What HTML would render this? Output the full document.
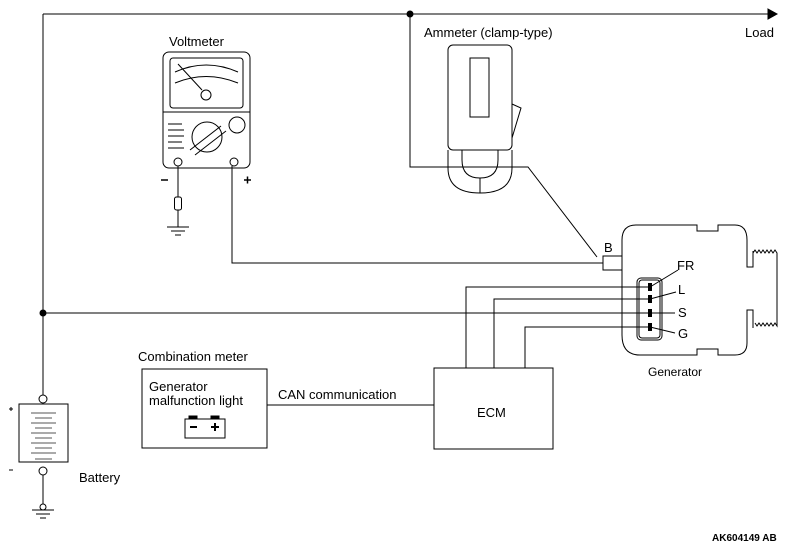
<!DOCTYPE html><html><head><style>body{margin:0;background:#fff}svg{display:block}text{font-family:"Liberation Sans",sans-serif;font-size:13px;fill:#000}</style></head><body>
<svg width="789" height="549" viewBox="0 0 789 549" fill="none" stroke="#000" stroke-width="1">
<path d="M43 14H768"/><path d="M768 9l9 5-9 5z" fill="#000"/>
<circle cx="410" cy="14" r="3" fill="#000"/>
<circle cx="43" cy="313" r="3" fill="#000"/>
<path d="M43 14V395"/>
<path d="M43 313H650"/>
<path d="M410 14V167H528L597 257"/>
<path d="M232 166V263H603"/>
<path d="M466 368V287H650M494 368V299H650M525 368V327H650"/>
<path d="M267 405H434"/>
<rect x="163" y="52" width="87" height="116" rx="6"/>
<rect x="170" y="58" width="73" height="50" rx="3"/>
<path d="M163 112H250"/>
<path d="M175 72Q206 58 238 72M175 83Q206 70 238 83"/>
<path d="M178 64L202 90"/><circle cx="206" cy="95" r="5" fill="#fff"/>
<circle cx="207" cy="137" r="15"/><circle cx="237" cy="125" r="8"/>
<path d="M190 150L221 126M195 155L226 131"/>
<path d="M168 124H182M168 130H184M168 136H184M168 142H182M168 148H184"/>
<circle cx="178" cy="162" r="4"/><circle cx="234" cy="162" r="4"/>
<path d="M178 166V197M178 210V227M167 227H189M171 231H185M175 235H181"/>
<rect x="174.5" y="197" width="7" height="13" rx="2"/>
<path d="M161 180h7M244 180h7M247.5 176.5v7" stroke-width="1.5"/>
<path d="M448 150V168Q448 193 480 193Q512 193 512 168V150"/>
<path d="M462 150V160Q462 178 480 178Q498 178 498 160V150M480 178V193"/>
<rect x="448" y="45" width="64" height="105" rx="5" fill="#fff"/>
<rect x="470" y="58" width="19" height="59"/>
<path d="M512 104L521 108L512 138"/>
<path d="M753 251V267H747V240Q747 225 735 225H718V231H697V225H636Q622 225 622 240V335Q622 355 640 355H697V349H718V355H735Q747 355 747 343V310H753V328"/>
<path d="M753 253l2-3 2 3 2-3 2 3 2-3 2 3 2-3 2 3 2-3 2 3 2-3 2 3V326l-2-3-2 3-2-3-2 3-2-3-2 3-2-3-2 3-2-3-2 3-2-3"/>
<rect x="603" y="256" width="19" height="14" fill="#fff"/>
<rect x="637" y="278" width="25" height="62" rx="4"/><rect x="639" y="280" width="21" height="58" rx="3"/>
<path d="M650 283v8M650 295v8M650 309v8M650 323v8" stroke-width="4"/>
<path d="M650 287L678 270M650 299L676 292M650 313H675M650 327L675 333"/>
<rect x="434" y="368" width="119" height="81"/>
<rect x="142" y="369" width="125" height="79"/>
<rect x="185" y="419" width="40" height="19"/>
<rect x="189" y="416" width="8" height="3" fill="#000"/><rect x="211" y="416" width="8" height="3" fill="#000"/>
<path d="M190 427h7M211 427h8M215 423v8" stroke-width="2"/>
<circle cx="43" cy="399" r="4" fill="#fff"/><circle cx="43" cy="471" r="4" fill="#fff"/>
<rect x="19" y="404" width="49" height="58"/>
<path d="M31 413H56M35 418H52M31 423H56M35 428H52M31 433H56M35 438H52M31 443H56M35 448H52M31 453H56M35 459H52" stroke="#555"/>
<path d="M43 475V508M32 510H54M36 514H50M40 518H46"/><circle cx="43" cy="507" r="3" fill="#fff"/>
<path d="M9 409h4M11 407v4M9 470h4"/>
<text x="169" y="46" stroke="none">Voltmeter</text>
<text x="424" y="37" stroke="none">Ammeter (clamp-type)</text>
<text x="745" y="37" stroke="none">Load</text>
<text x="604" y="252" stroke="none">B</text>
<text x="677" y="270" stroke="none">FR</text>
<text x="678" y="294" stroke="none">L</text>
<text x="678" y="317" stroke="none">S</text>
<text x="678" y="338" stroke="none">G</text>
<text x="648" y="376" stroke="none" style="font-size:12px">Generator</text>
<text x="138" y="361" stroke="none">Combination meter</text>
<text x="149" y="391" stroke="none">Generator</text>
<text x="149" y="405" stroke="none">malfunction light</text>
<text x="278" y="399" stroke="none">CAN communication</text>
<text x="477" y="417" stroke="none">ECM</text>
<text x="79" y="482" stroke="none">Battery</text>
<text x="712" y="541" stroke="none" style="font-size:10px;font-weight:bold">AK604149 AB</text>
</svg>
</body></html>
